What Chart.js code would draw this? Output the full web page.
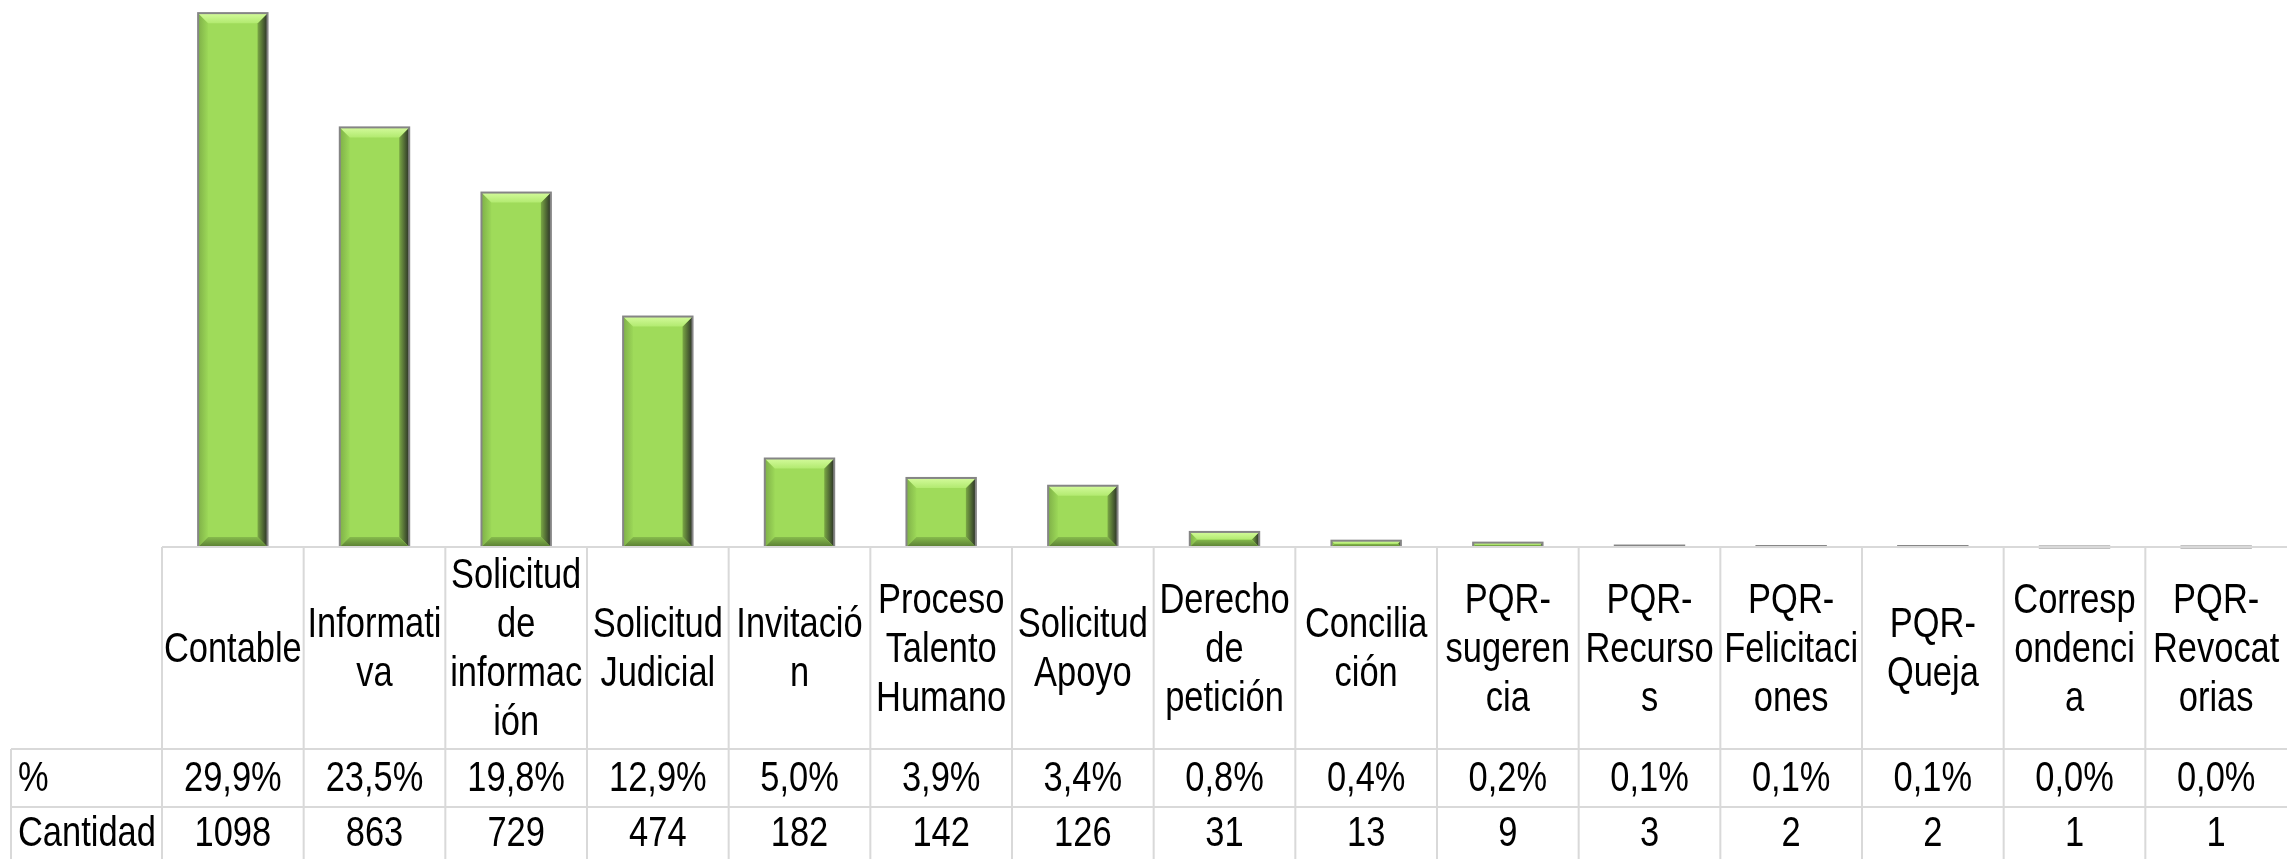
<!DOCTYPE html>
<html>
<head>
<meta charset="utf-8">
<script src="https://cdn.jsdelivr.net/npm/chart.js@4/dist/chart.umd.min.js"></script>
<style>
  html, body { margin: 0; padding: 0; background: #fff; }
  #wrap { width: 2287px; height: 859px; }
</style>
</head>
<body>
<div id="wrap"><canvas id="c" width="2287" height="859"></canvas></div>
<script>
// categories, split into the lines shown in the table header
const categories = [
  ['Contable'],
  ['Informati', 'va'],
  ['Solicitud', 'de', 'informac', 'ión'],
  ['Solicitud', 'Judicial'],
  ['Invitació', 'n'],
  ['Proceso', 'Talento', 'Humano'],
  ['Solicitud', 'Apoyo'],
  ['Derecho', 'de', 'petición'],
  ['Concilia', 'ción'],
  ['PQR-', 'sugeren', 'cia'],
  ['PQR-', 'Recurso', 's'],
  ['PQR-', 'Felicitaci', 'ones'],
  ['PQR-', 'Queja'],
  ['Corresp', 'ondenci', 'a'],
  ['PQR-', 'Revocat', 'orias']
];
const cantidad = [1098, 863, 729, 474, 182, 142, 126, 31, 13, 9, 3, 2, 2, 1, 1];
const porcentaje = ['29,9%', '23,5%', '19,8%', '12,9%', '5,0%', '3,9%', '3,4%', '0,8%', '0,4%', '0,2%', '0,1%', '0,1%', '0,1%', '0,0%', '0,0%'];
const rowNames = ['%', 'Cantidad'];

// no Arial Narrow here, so squeeze Liberation Sans sideways
const FONT = '42px "Liberation Sans", Arial, sans-serif';
const NARROW = 0.82;
const GRID = '#d9d9d9';

function narrowText(ctx, s, x, y) {
  ctx.save();
  ctx.translate(x, y);
  ctx.scale(NARROW, 1);
  ctx.fillText(s, 0, 0);
  ctx.restore();
}

// bevelled look of the bars
const bevelBars = {
  id: 'bevelBars',
  afterDatasetsDraw(chart) {
    const ctx = chart.ctx;
    chart.getDatasetMeta(0).data.forEach(bar => {
      const l = bar.x - bar.width / 2, r = bar.x + bar.width / 2;
      const t = Math.min(bar.y, bar.base), b = Math.max(bar.y, bar.base);
      const h = b - t;
      const d = Math.min(10, h / 2, bar.width / 2);
      ctx.save();
      if (h > 0.5) {
        ctx.fillStyle = '#9fdb5a';
        ctx.fillRect(l, t, r - l, h);
        // left
        const gl = ctx.createLinearGradient(l, 0, l + d, 0);
        gl.addColorStop(0, '#7fb048'); gl.addColorStop(1, '#9cd858');
        ctx.fillStyle = gl;
        ctx.beginPath(); ctx.moveTo(l, t); ctx.lineTo(l + d, t + d); ctx.lineTo(l + d, b - d); ctx.lineTo(l, b); ctx.fill();
        // right
        const g = ctx.createLinearGradient(r - d, 0, r, 0);
        g.addColorStop(0, '#7aa844'); g.addColorStop(1, '#2a3026');
        ctx.fillStyle = g;
        ctx.beginPath(); ctx.moveTo(r, t); ctx.lineTo(r - d, t + d); ctx.lineTo(r - d, b - d); ctx.lineTo(r, b); ctx.fill();
        // bottom
        const gb = ctx.createLinearGradient(0, b - d, 0, b);
        gb.addColorStop(0, '#86bb4c'); gb.addColorStop(1, '#5a7d34');
        ctx.fillStyle = gb;
        ctx.beginPath(); ctx.moveTo(l, b); ctx.lineTo(l + d, b - d); ctx.lineTo(r - d, b - d); ctx.lineTo(r, b); ctx.fill();
        // top
        const gt = ctx.createLinearGradient(0, t, 0, t + d);
        gt.addColorStop(0, '#d4fb9c'); gt.addColorStop(1, '#b2ea70');
        ctx.fillStyle = gt;
        ctx.beginPath(); ctx.moveTo(l, t); ctx.lineTo(r, t); ctx.lineTo(r - d, t + d); ctx.lineTo(l + d, t + d); ctx.fill();
      }
      ctx.strokeStyle = '#858585';
      ctx.lineWidth = 2;
      ctx.strokeRect(l, t, r - l, Math.max(h, 1));
      ctx.restore();
    });
  }
};

// data table under the plot
const dataTable = {
  id: 'dataTable',
  afterDraw(chart) {
    const ctx = chart.ctx;
    const xs = chart.scales.x;
    const area = chart.chartArea;
    const n = categories.length;
    const colW = (area.right - area.left) / n;
    const top = area.bottom;
    const headBottom = top + 202;
    const pctBottom = headBottom + 58;
    const bottom = chart.height;
    const leftEdge = 11;

    ctx.save();
    ctx.strokeStyle = GRID;
    ctx.lineWidth = 2;
    ctx.beginPath();
    ctx.moveTo(area.left, top); ctx.lineTo(area.right, top);
    ctx.moveTo(leftEdge, headBottom); ctx.lineTo(area.right, headBottom);
    ctx.moveTo(leftEdge, pctBottom); ctx.lineTo(area.right, pctBottom);
    ctx.moveTo(leftEdge, headBottom); ctx.lineTo(leftEdge, bottom);
    for (let i = 0; i < n; i++) {
      const xl = xs.getPixelForValue(i) - colW / 2;
      ctx.moveTo(xl, top); ctx.lineTo(xl, bottom);
    }
    ctx.stroke();

    ctx.fillStyle = '#000';
    ctx.font = FONT;
    ctx.textBaseline = 'middle';
    ctx.textAlign = 'center';
    const lh = 49;
    const headMid = (top + headBottom) / 2;
    categories.forEach((lines, i) => {
      const cx = xs.getPixelForValue(i);
      const y0 = headMid - (lines.length - 1) * lh / 2;
      lines.forEach((s, k) => narrowText(ctx, s, cx, y0 + k * lh + 2));
      narrowText(ctx, porcentaje[i], cx, (headBottom + pctBottom) / 2 + 1);
      narrowText(ctx, String(cantidad[i]), cx, pctBottom + 27);
    });
    ctx.textAlign = 'left';
    narrowText(ctx, rowNames[0], 18, (headBottom + pctBottom) / 2 + 1);
    narrowText(ctx, rowNames[1], 18, pctBottom + 27);
    ctx.restore();
  }
};

new Chart(document.getElementById('c'), {
  type: 'bar',
  data: {
    labels: categories.map(l => l.join('')),
    datasets: [{
      label: 'Cantidad',
      data: cantidad,
      backgroundColor: 'rgba(0,0,0,0)',
      borderWidth: 0,
      barPercentage: 0.49,
      categoryPercentage: 1
    }]
  },
  options: {
    responsive: false,
    animation: false,
    layout: { padding: { left: 162, right: 0, top: 0, bottom: 312 } },
    plugins: { legend: { display: false }, tooltip: { enabled: false } },
    scales: {
      x: { display: false },
      y: { display: false, min: 0, max: 1125 }
    }
  },
  plugins: [bevelBars, dataTable]
});
</script>
</body>
</html>
